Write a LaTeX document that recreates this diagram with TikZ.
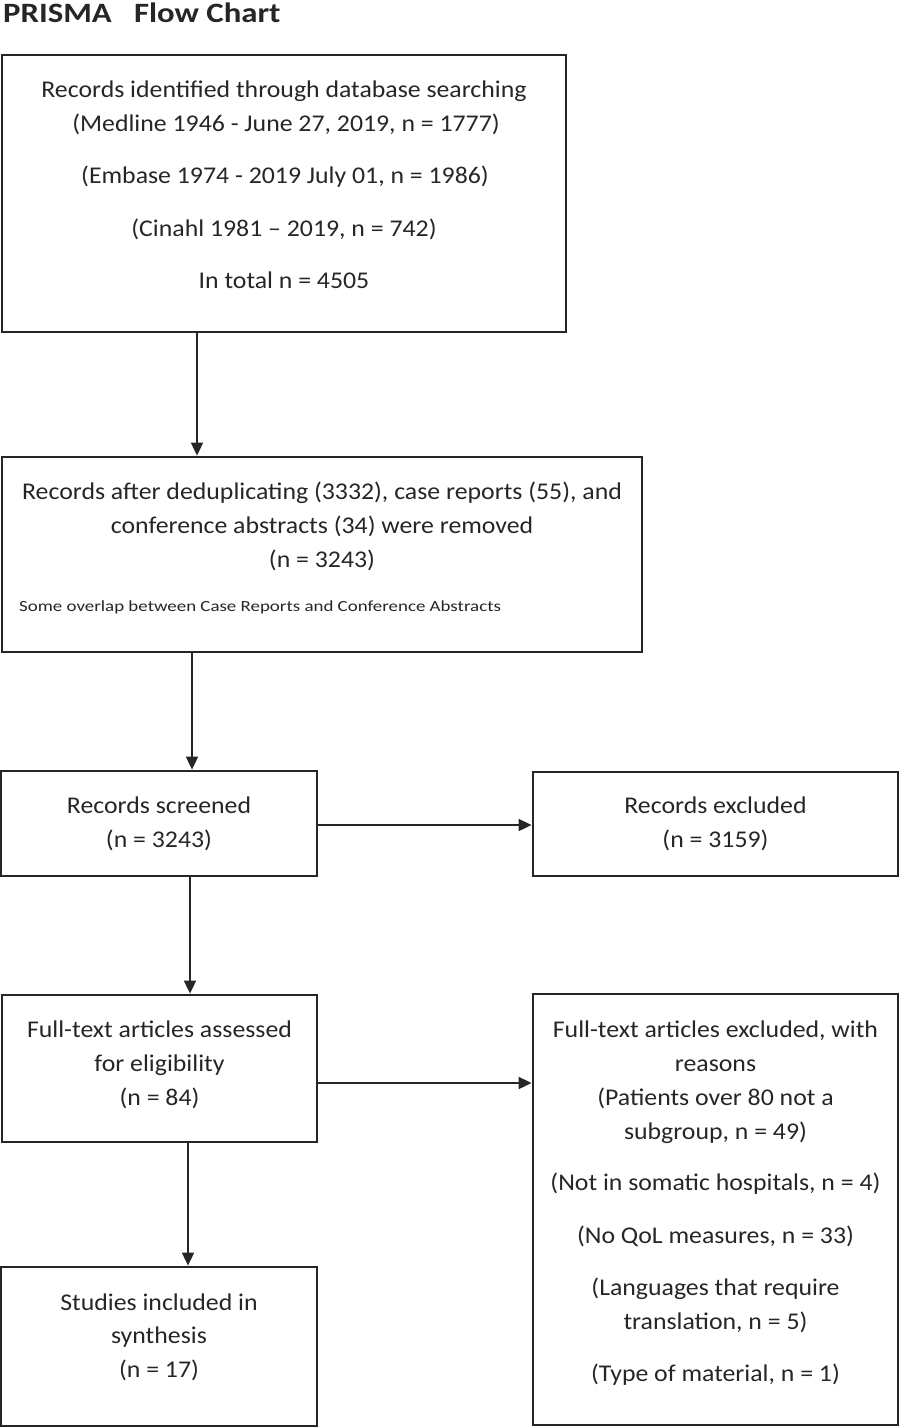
\documentclass[tikz,border=0pt]{standalone}
\usepackage{fontspec}
\setmainfont{Carlito}
\newfontfamily\bodyf[FakeStretch=1.075]{Carlito}
\newfontfamily\titlef[FakeStretch=1.17]{Carlito}
\newfontfamily\smallf[FakeStretch=1.22]{Carlito}
\usetikzlibrary{arrows.meta}
\begin{document}
\begin{tikzpicture}[x=1pt,y=-1pt,
  box/.style={draw=black!85, line width=2.8pt, rectangle, inner sep=0pt},
  txt/.style={anchor=base, inner sep=0pt, font=\bodyf\fontsize{24}{28}\selectfont, text=black!85},
  small/.style={anchor=base west, inner sep=0pt, font=\smallf\fontsize{15.5}{19}\selectfont, text=black!85},
  arr/.style={draw=black!85, line width=1.8pt, -{Triangle[length=13pt,width=12pt]}}]
\useasboundingbox (0,0) rectangle (912,1428);
% title
\node[anchor=base west, inner sep=0pt, font=\titlef\bfseries\fontsize{28}{32}\selectfont, text=black!85] (title) at (3,22) {PRISMA\ \ \ Flow Chart};
% boxes
\node[box, minimum width=564pt, minimum height=277pt] (b1) at (284,193.5) {};
\node[box, minimum width=640pt, minimum height=195pt] (b2) at (322,554.5) {};
\node[box, minimum width=316pt, minimum height=105pt] (b3) at (159,823.5) {};
\node[box, minimum width=365pt, minimum height=104pt] (b4) at (715.5,824) {};
\node[box, minimum width=315pt, minimum height=147pt] (b5) at (159.5,1068.5) {};
\node[box, minimum width=365pt, minimum height=431pt] (b6) at (715.5,1209.5) {};
\node[box, minimum width=316pt, minimum height=159pt] (b7) at (159,1346.5) {};
% box 1 text
\node[txt] (t1a) at (284,97) {Records identified through database searching};
\node[txt] (t1b) at (286,131) {(Medline 1946 - June 27, 2019, n = 1777)};
\node[txt] (t1c) at (285,183) {(Embase 1974 - 2019 July 01, n = 1986)};
\node[txt] (t1d) at (284,236) {(Cinahl 1981 – 2019, n = 742)};
\node[txt] (t1e) at (284,288) {In total n = 4505};
% box 2 text
\node[txt] (t2a) at (322,499) {Records after deduplicating (3332), case reports (55), and};
\node[txt] (t2b) at (322,533) {conference abstracts (34) were removed};
\node[txt] (t2c) at (322,567) {(n = 3243)};
\node[small] (t2d) at (19,611) {Some overlap between Case Reports and Conference Abstracts};
% box 3, 4
\node[txt] (t3a) at (159,813) {Records screened};
\node[txt] (t3b) at (159,847) {(n = 3243)};
\node[txt] (t4a) at (715.5,813) {Records excluded};
\node[txt] (t4b) at (715.5,847) {(n = 3159)};
% box 5
\node[txt] (t5a) at (159.5,1037) {Full-text articles assessed};
\node[txt] (t5b) at (159.5,1071) {for eligibility};
\node[txt] (t5c) at (159.5,1105) {(n = 84)};
% box 6
\node[txt] (t6a) at (715.5,1037) {Full-text articles excluded, with};
\node[txt] (t6b) at (715.5,1071) {reasons};
\node[txt] (t6c) at (715.5,1105) {(Patients over 80 not a};
\node[txt] (t6d) at (715.5,1139) {subgroup, n = 49)};
\node[txt] (t6e) at (715.5,1190) {(Not in somatic hospitals, n = 4)};
\node[txt] (t6f) at (715.5,1243) {(No QoL measures, n = 33)};
\node[txt] (t6g) at (715.5,1295) {(Languages that require};
\node[txt] (t6h) at (715.5,1329) {translation, n = 5)};
\node[txt] (t6i) at (715.5,1381) {(Type of material, n = 1)};
% box 7
\node[txt] (t7a) at (159,1310) {Studies included in};
\node[txt] (t7b) at (159,1343) {synthesis};
\node[txt] (t7c) at (159,1377) {(n = 17)};
% arrows
\draw[arr] (b1.south -| 197,0) -- (b2.north -| 197,0);
\draw[arr] (b2.south -| 192,0) -- (b3.north -| 192,0);
\draw[arr] (b3.south -| 190,0) -- (b5.north -| 190,0);
\draw[arr] (b5.south -| 188,0) -- (b7.north -| 188,0);
\draw[arr] (b3.east |- 0,825) -- (b4.west |- 0,825);
\draw[arr] (b5.east |- 0,1083) -- (b6.west |- 0,1083);
\end{tikzpicture}
\end{document}
